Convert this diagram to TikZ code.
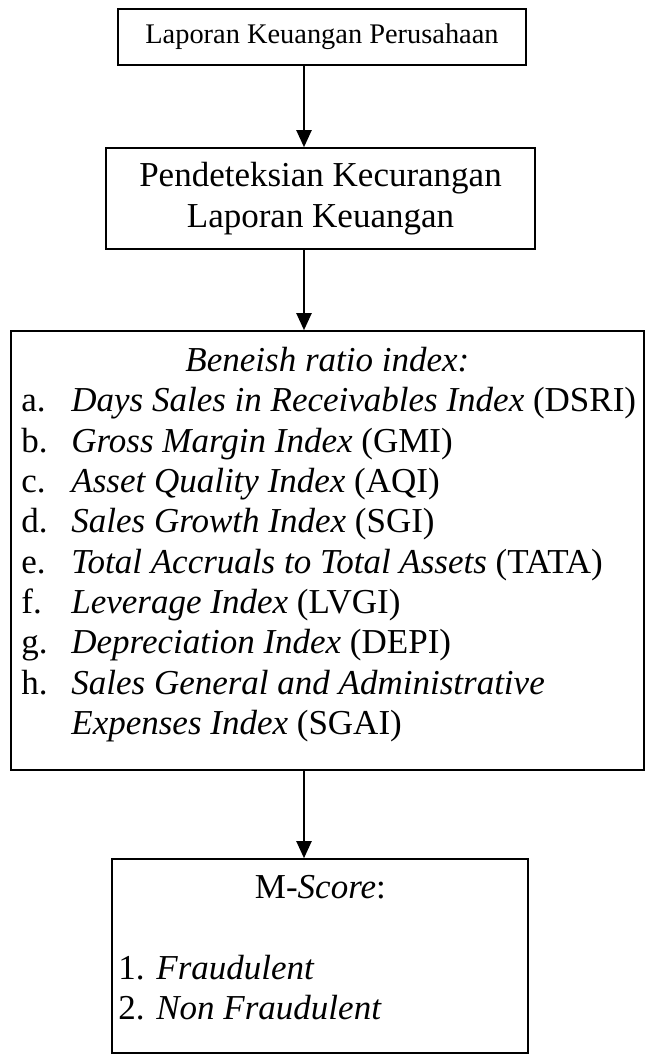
\documentclass[tikz,border=0pt]{standalone}
\usepackage{fontspec}
\setmainfont{Liberation Serif}
\usetikzlibrary{arrows.meta,positioning}

\begin{document}
\begin{tikzpicture}[x=0.5pt, y=-0.5pt, >={Triangle[length=8.5pt, width=7.5pt]},
    frame/.style={rectangle, draw=black, line width=0.8pt, inner sep=0pt},
    body/.style={font=\fontsize{17.5}{20.15}\selectfont, inner sep=0pt},
    link/.style={->, line width=1pt}]
\useasboundingbox (0,0) rectangle (645,1055);

% Company report
\node[frame, minimum width=204pt, minimum height=28pt,
      font=\fontsize{14.2}{16}\selectfont] (laporan) at (322,37)
  {Laporan Keuangan Perusahaan};

% Fraud detection
\node[frame, body, minimum width=214.5pt, minimum height=50.5pt,
      align=center] (deteksi) at (320.5,198.5)
  {Pendeteksian Kecurangan\\Laporan Keuangan};

% Beneish ratios
\node[frame, minimum width=316.5pt, minimum height=219.5pt] (beneish) at (327.5,550.5) {};
\node[body, anchor=north west] (rasio) at (21,343) {%
  \begin{tabular}{@{}p{25pt}@{}l@{}}
  \multicolumn{2}{@{}l@{}}{\makebox[306pt][c]{\textit{Beneish ratio index:}}}\\
  a. & \textit{Days Sales in Receivables Index} (DSRI)\\
  b. & \textit{Gross Margin Index} (GMI)\\
  c. & \textit{Asset Quality Index} (AQI)\\
  d. & \textit{Sales Growth Index} (SGI)\\
  e. & \textit{Total Accruals to Total Assets} (TATA)\\
  f. & \textit{Leverage Index} (LVGI)\\
  g. & \textit{Depreciation Index} (DEPI)\\
  h. & \textit{Sales General and Administrative}\\
     & \textit{Expenses Index} (SGAI)
  \end{tabular}};

% M-Score
\node[frame, minimum width=208pt, minimum height=97pt] (mscore) at (320,956) {};
\node[body, anchor=north west] (hasil) at (118,870) {%
  \begin{tabular}{@{}p{19pt}@{}l@{}}
  \multicolumn{2}{@{}l@{}}{\makebox[202pt][c]{M-\textit{Score}:}}\\
     & \\
  1. & \textit{Fraudulent}\\
  2. & \textit{Non Fraudulent}
  \end{tabular}};

% Flow
\coordinate (spine) at (304,0);
\draw[link] (laporan.south -| spine) -- (deteksi.north -| spine);
\draw[link] (deteksi.south -| spine) -- (beneish.north -| spine);
\draw[link] (beneish.south -| spine) -- (mscore.north -| spine);

\end{tikzpicture}
\end{document}
